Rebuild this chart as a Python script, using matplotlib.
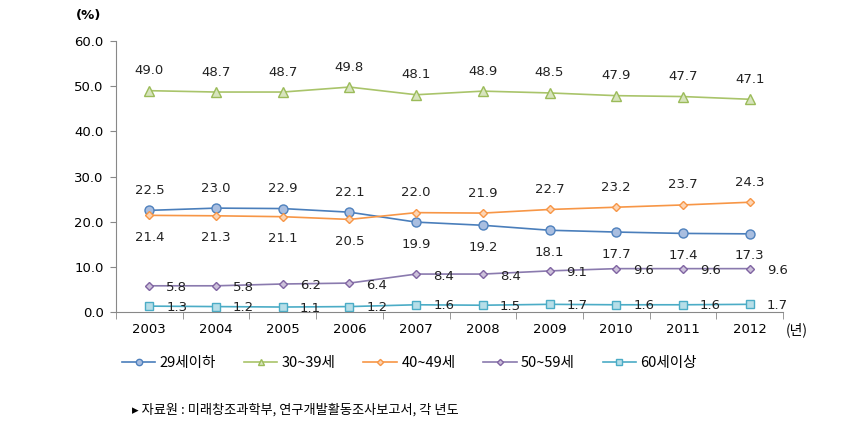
import matplotlib
matplotlib.use("Agg")
import matplotlib.pyplot as plt
import numpy as np

plt.rcParams['font.family'] = ['DejaVu Sans', 'Noto Sans CJK KR']

years = ['2003', '2004', '2005', '2006', '2007', '2008', '2009', '2010', '2011', '2012']
age_29 = [22.5, 23.0, 22.9, 22.1, 19.9, 19.2, 18.1, 17.7, 17.4, 17.3]
age_30 = [49.0, 48.7, 48.7, 49.8, 48.1, 48.9, 48.5, 47.9, 47.7, 47.1]
age_40 = [21.4, 21.3, 21.1, 20.5, 22.0, 21.9, 22.7, 23.2, 23.7, 24.3]
age_50 = [5.8, 5.8, 6.2, 6.4, 8.4, 8.4, 9.1, 9.6, 9.6, 9.6]
age_60 = [1.3, 1.2, 1.1, 1.2, 1.6, 1.5, 1.7, 1.6, 1.6, 1.7]
series_names = ['29세이하', '30~39세', '40~49세', '50~59세', '60세이상']

x = np.arange(len(years))
kr = ['Noto Sans CJK KR', 'DejaVu Sans']

fig = plt.figure(figsize=(8.44, 4.33), dpi=100)
ax = fig.add_axes([116/844, 1 - 312/433, (783 - 116)/844, (312 - 41)/433])

styles = [
    (age_29, 'o', '#4A7EBB', '#A9BEE0', '#4F81BD', 6.5),
    (age_30, '^', '#A9C46A', '#D7E4BD', '#9BBB59', 6.5),
    (age_40, 'D', '#F79646', '#FCD5B5', '#F79646', 4.5),
    (age_50, 'D', '#8A7AAE', '#CCC1DA', '#8064A2', 4.5),
    (age_60, 's', '#4BACC6', '#B7DEE8', '#4BACC6', 5.5),
]
for (vals, mk, lc, fc, ec, ms), name in zip(styles, series_names):
    ax.plot(x, vals, color=lc, lw=1.2, marker=mk, markersize=ms,
            markerfacecolor=fc, markeredgecolor=ec, markeredgewidth=1, label=name)

def lab(xi, v, dx, dy, ha='center'):
    ax.annotate(f'{v:.1f}', (xi, v), xytext=(dx, dy), textcoords='offset pixels',
                ha=ha, va='center', fontsize=9.5, color='#222222')

for i in x:
    lab(i, age_30[i], 0, 20)
    if i < 4:
        lab(i, age_29[i], 0, 20)
        lab(i, age_40[i], 0, -22)
    else:
        lab(i, age_29[i], 0, -22)
        lab(i, age_40[i], 0, 20)
    lab(i, age_50[i], 17, -2, ha='left')
    lab(i, age_60[i], 17, -1, ha='left')

ax.set_xlim(-0.5, len(years) - 0.5)
ax.set_ylim(0, 60)
ax.set_yticks(np.arange(0, 61, 10))
ax.set_yticklabels([f'{v:.1f}' for v in np.arange(0, 61, 10)], fontsize=9.5)
ax.set_xticks(x)
ax.set_xticklabels(years, fontsize=9.5)
ax.set_xticks(np.arange(-0.5, len(years), 1), minor=True)
ax.tick_params(axis='x', which='major', length=0, pad=8)
ax.tick_params(axis='x', which='minor', length=5, color='#888888')
ax.tick_params(axis='y', length=4, color='#888888', pad=5)
for s in ['top', 'right']:
    ax.spines[s].set_visible(False)
ax.spines['left'].set_color('#888888')
ax.spines['bottom'].set_color('#888888')

fig.text(76/844, 1 - 15/433, '(%)', fontsize=9.5, ha='left', va='center', weight='bold')
fig.text(786/844, 1 - 330/433, '(년)', fontsize=10, ha='left', va='center', family=kr)

ax.legend(loc='upper center', bbox_to_anchor=(0.44, -0.115), ncol=5, frameon=False,
          prop={'family': kr, 'size': 10.5}, handlelength=2.3, columnspacing=1.9,
          handletextpad=0.3, markerscale=0.7)

fig.text(132/844, 1 - 410/433, '▸ 자료원 : 미래창조과학부, 연구개발활동조사보고서, 각 년도',
         fontsize=9.5, ha='left', va='center', family=kr)

fig.savefig('out.png', dpi=100)
